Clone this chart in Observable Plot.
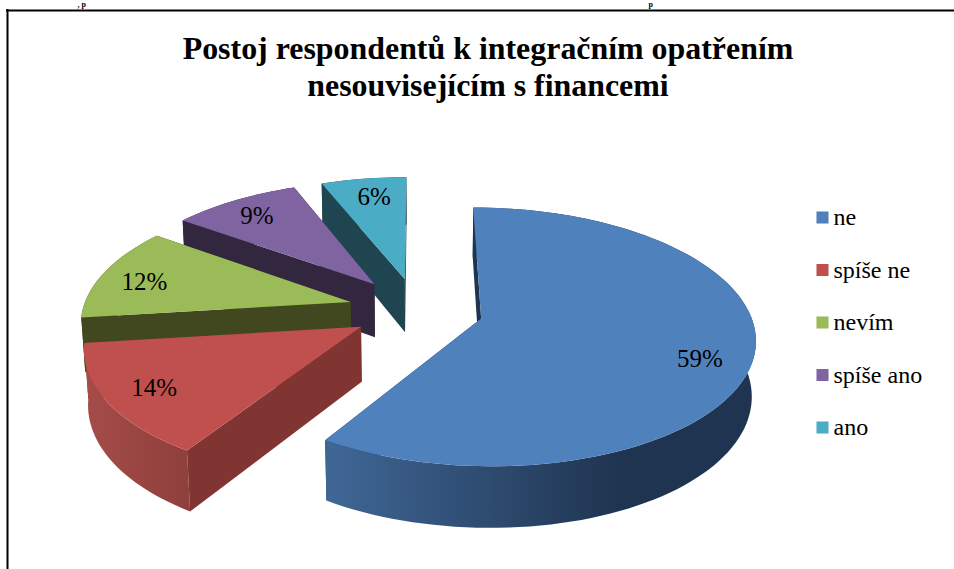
<!DOCTYPE html>
<html><head><meta charset="utf-8">
<script src="https://cdn.jsdelivr.net/npm/d3@7"></script>
<script src="https://cdn.jsdelivr.net/npm/@observablehq/plot@0.6"></script>
<style>html,body{margin:0;padding:0;background:#fff}svg{display:block}</style>
</head><body><div id="chart"></div>
<script>
const categories = ["ne", "spíše ne", "nevím", "spíše ano", "ano"];
const shares = [59, 14, 12, 9, 6];
const colors = ["#4f81bd", "#c0504d", "#9bbb59", "#8064a2", "#4bacc6"];
const wallColors = ["#1f3450", "#803533", "#41481f", "#33273f", "#1f4650"];
const titleLines = ["Postoj respondentů k integračním opatřením", "nesouvisejícím s financemi"];

// layout of the tilted, exploded pie
const view = {x0: 417, y0: 309.5, a: 268, b: 124.4, p: 0.14, h: 55, r: 0.012};
const explode = [0.245, 0.245, 0.26, 0.27, 0.26];
const labelReach = [0.80, 0.72, 0.72, 0.72, 0.72];
const labelNudge = [[2, 11], [-28, 9], [-27, 1], [-14, -6], [0, -7]];

function project(X, Y, Z = 0) {
  const w = 1 + view.p * Y + view.r * Z;
  return {x: view.x0 + view.a * X / w, y: view.y0 + (-view.b * Y + view.h * Z) / w};
}
const rad = d => d * Math.PI / 180;
const total = d3.sum(shares);
let acc = 0;
const slices = categories.map((name, i) => {
  const start = acc / total * 360;
  acc += shares[i];
  const end = acc / total * 360;
  const mid = (start + end) / 2;
  const cx = explode[i] * Math.sin(rad(mid));
  const cy = explode[i] * Math.cos(rad(mid));
  const rim = (deg, z) => project(cx + Math.sin(rad(deg)), cy + Math.cos(rad(deg)), z);
  const n = Math.max(4, Math.ceil((end - start) / 2));
  const angles = d3.range(n + 1).map(k => start + (end - start) * k / n);
  const topRim = angles.map(t => rim(t, 0));
  const lowRim = angles.map(t => rim(t, 1));
  const apex0 = project(cx, cy, 0), apex1 = project(cx, cy, 1);
  const anchor = project(cx + labelReach[i] * Math.sin(rad(mid)), cy + labelReach[i] * Math.cos(rad(mid)), 0);
  return {
    name, i, mid,
    top: [apex0, ...topRim],
    outer: [...topRim, ...lowRim.slice().reverse()],
    wallStart: [apex0, topRim[0], lowRim[0], apex1],
    wallEnd: [apex0, topRim[n], lowRim[n], apex1],
    label: {x: anchor.x + labelNudge[i][0], y: anchor.y + labelNudge[i][1]}
  };
});

const poly = (pts, fill) => Plot.line(pts, {x: "x", y: "y", fill, stroke: "none", curve: "linear"});
const rimFill = ["url(#rim0)", "url(#rim1)", wallColors[2], wallColors[3], wallColors[4]];

const defs = () => {
  const d = d3.create("svg:defs");
  const grad = (id, x1, x2, stops) => {
    const g = d.append("linearGradient").attr("id", id).attr("gradientUnits", "userSpaceOnUse")
      .attr("x1", x1).attr("x2", x2).attr("y1", 0).attr("y2", 0);
    stops.forEach(([o, c]) => g.append("stop").attr("offset", o).attr("stop-color", c));
  };
  grad("rim0", 330, 620, [[0, "#3f6695"], [1, "#1f3450"]]);
  grad("rim1", 85, 190, [[0, "#a54c49"], [1, "#8f3f3c"]]);
  return d.node();
};

const pieMarks = [...slices].reverse().flatMap(s => [
  poly(s.wallEnd, wallColors[s.i]),
  poly(s.outer, rimFill[s.i]),
  poly(s.wallStart, wallColors[s.i]),
  poly(s.top, colors[s.i])
]);

const legendY = d3.scalePoint(categories, [217, 427]);
const serif = "'Liberation Serif','Times New Roman',serif";

const plot = Plot.plot({
  width: 954, height: 569, margin: 0,
  x: {type: "identity", axis: null},
  y: {type: "identity", axis: null},
  style: {background: "#fff", fontFamily: serif},
  marks: [
    defs,
    Plot.text([", p"], {x: 77, y: 4, text: d => d, fontFamily: serif, fontWeight: "bold", fontSize: 8, textAnchor: "start", fill: "#000"}),
    Plot.text(["p"], {x: 648, y: 4, text: d => d, fontFamily: serif, fontWeight: "bold", fontSize: 8, textAnchor: "start", fill: "#000"}),
    Plot.ruleY([10], {x1: 6, x2: 954, stroke: "#000", strokeWidth: 2}),
    Plot.ruleX([7], {y1: 9, y2: 569, stroke: "#000", strokeWidth: 2}),
    Plot.text(titleLines, {x: 487.5, y: (d, i) => [59, 96][i], text: d => d, fontFamily: serif, fontWeight: "bold", fontSize: 31.9, lineAnchor: "bottom", fill: "#000", dy: -1}),
    ...pieMarks,
    Plot.text(slices, {x: d => d.label.x, y: d => d.label.y, text: d => shares[d.i] + "%", fontFamily: serif, fontSize: 25, fill: "#000"}),
    Plot.dot(categories, {x: 822, y: d => legendY(d), symbol: "square", r: 6.8, fill: d => colors[categories.indexOf(d)], stroke: "none"}),
    Plot.text(categories, {x: 833, y: d => legendY(d), text: d => d, textAnchor: "start", fontFamily: serif, fontSize: 24, fill: "#000"})
  ]
});
document.getElementById("chart").append(plot);
</script></body></html>
